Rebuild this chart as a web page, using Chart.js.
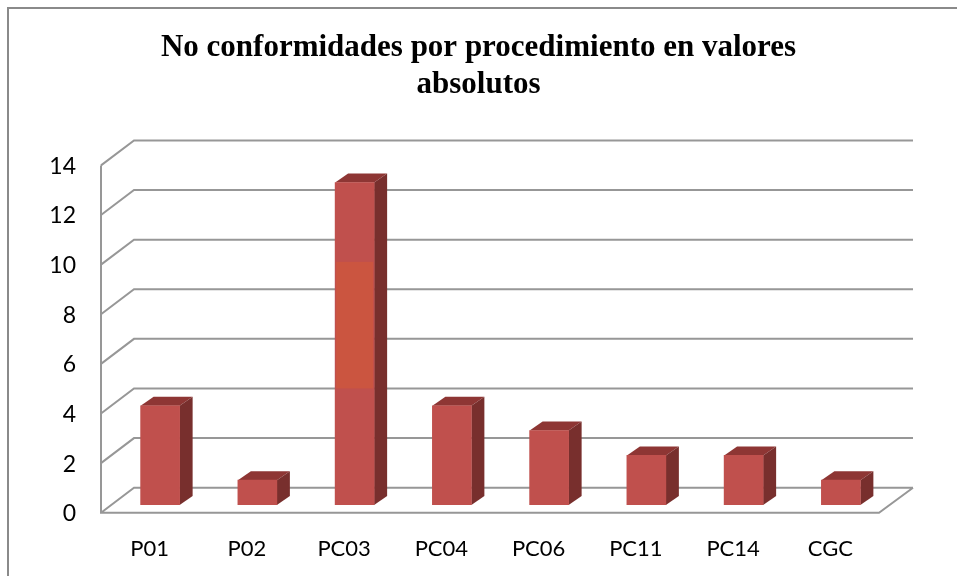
<!DOCTYPE html>
<html lang="es">
<head>
<meta charset="utf-8">
<title>No conformidades por procedimiento</title>
<script src="https://cdn.jsdelivr.net/npm/chart.js@4"></script>
<style>
  html, body { margin: 0; padding: 0; background: #fff; overflow: hidden; }
  #wrap { position: relative; width: 957px; height: 576px; }
</style>
</head>
<body>
<div id="wrap"><canvas id="chart" width="957" height="576"></canvas></div>
<script>
  const categories = ["P01", "P02", "PC03", "PC04", "PC06", "PC11", "PC14", "CGC"];
  const values = [4, 1, 13, 4, 3, 2, 2, 1];
  const yTicks = [0, 2, 4, 6, 8, 10, 12, 14];
  const titleLines = ["No conformidades por procedimiento en valores", "absolutos"];

  // fake 3D: back wall offset, and how far the bars sit in from the front edge
  const WALL_DX = 33, WALL_DY = 25;
  const BAR_DX = 10.5, BAR_DY = 7.7;
  const SIDE_DX = 13, SIDE_DY = 9;
  const WALL_RIGHT = 913;
  const GRID = "#979797";

  // grey wall lines + floor, all hung off the y scale
  const walls = {
    id: "walls",
    beforeDatasetsDraw(chart) {
      const { ctx, scales: { y }, chartArea: a } = chart;
      ctx.save();
      ctx.strokeStyle = GRID;
      ctx.lineWidth = 2;
      ctx.beginPath();
      yTicks.forEach((t) => {
        const py = y.getPixelForValue(t);
        ctx.moveTo(a.left, py);
        ctx.lineTo(a.left + WALL_DX, py - WALL_DY);
        ctx.lineTo(WALL_RIGHT, py - WALL_DY);
      });
      ctx.moveTo(a.left, y.getPixelForValue(yTicks[yTicks.length - 1]));
      ctx.lineTo(a.left, a.bottom);
      ctx.lineTo(a.right, a.bottom);
      ctx.lineTo(WALL_RIGHT, a.bottom - WALL_DY);
      ctx.stroke();
      ctx.restore();
    },
  };

  // moves the real bars off the front edge and adds their top and side faces
  const bars3d = {
    id: "bars3d",
    beforeDatasetDraw(chart) {
      const { ctx } = chart;
      ctx.save();
      ctx.translate(BAR_DX, -BAR_DY);
      chart.getDatasetMeta(0).data.forEach((bar) => {
        const l = bar.x - bar.width / 2, r = bar.x + bar.width / 2;
        ctx.fillStyle = "#8E3634";
        ctx.beginPath();
        ctx.moveTo(l, bar.y);
        ctx.lineTo(l + SIDE_DX, bar.y - SIDE_DY);
        ctx.lineTo(r + SIDE_DX, bar.y - SIDE_DY);
        ctx.lineTo(r, bar.y);
        ctx.fill();
        ctx.fillStyle = "#782F2D";
        ctx.beginPath();
        ctx.moveTo(r, bar.y);
        ctx.lineTo(r + SIDE_DX, bar.y - SIDE_DY);
        ctx.lineTo(r + SIDE_DX, bar.base - SIDE_DY);
        ctx.lineTo(r, bar.base);
        ctx.fill();
      });
    },
    afterDatasetDraw(chart) {
      const { ctx, scales: { y } } = chart;
      // lighter patch on the tall bar, as in the source image
      const bar = chart.getDatasetMeta(0).data[2];
      const top = y.getPixelForValue(9.8), bottom = y.getPixelForValue(4.7);
      ctx.fillStyle = "#CB5540";
      ctx.fillRect(bar.x - bar.width / 2 + 1, top, bar.width - 2, bottom - top);
      ctx.restore();
    },
  };

  new Chart(document.getElementById("chart"), {
    type: "bar",
    data: {
      labels: categories,
      datasets: [{ data: values, backgroundColor: "#C0504D", barThickness: 39 }],
    },
    plugins: [walls, bars3d],
    options: {
      responsive: false,
      animation: false,
      plugins: {
        legend: { display: false },
        tooltip: { enabled: false },
        title: {
          display: true,
          text: titleLines,
          color: "#000",
          font: { family: "'Liberation Serif', serif", size: 31, weight: "bold", lineHeight: 1.2 },
          padding: { top: 29, bottom: 62 },
        },
      },
      scales: {
        x: {
          grid: { display: false },
          border: { display: false },
          ticks: { color: "#000", font: { family: "Lato", size: 22 }, padding: 15, maxRotation: 0 },
          afterFit(s) { s.height = 63.3; },
        },
        y: {
          min: 0,
          max: 14,
          grid: { display: false },
          border: { display: false },
          afterBuildTicks(s) { s.ticks = yTicks.map((v) => ({ value: v })); },
          ticks: { color: "#000", font: { family: "Lato", size: 23 }, padding: 17, labelOffset: 1 },
          afterFit(s) { s.width = 101; },
        },
        // empty axis, only reserves the room the back wall runs into so the title stays centred
        side: {
          position: "right",
          grid: { display: false },
          border: { display: false },
          ticks: { display: false },
          afterFit(s) { s.width = 78; },
        },
      },
    },
  });

  // outer frame of the picture: only top and left are visible in the crop
  (function frame() {
    const ctx = document.getElementById("chart").getContext("2d");
    ctx.fillStyle = "#8a8a8a";
    ctx.fillRect(7, 7, 2, 569);
    ctx.fillRect(7, 7, 950, 2);
  })();
</script>
</body>
</html>
